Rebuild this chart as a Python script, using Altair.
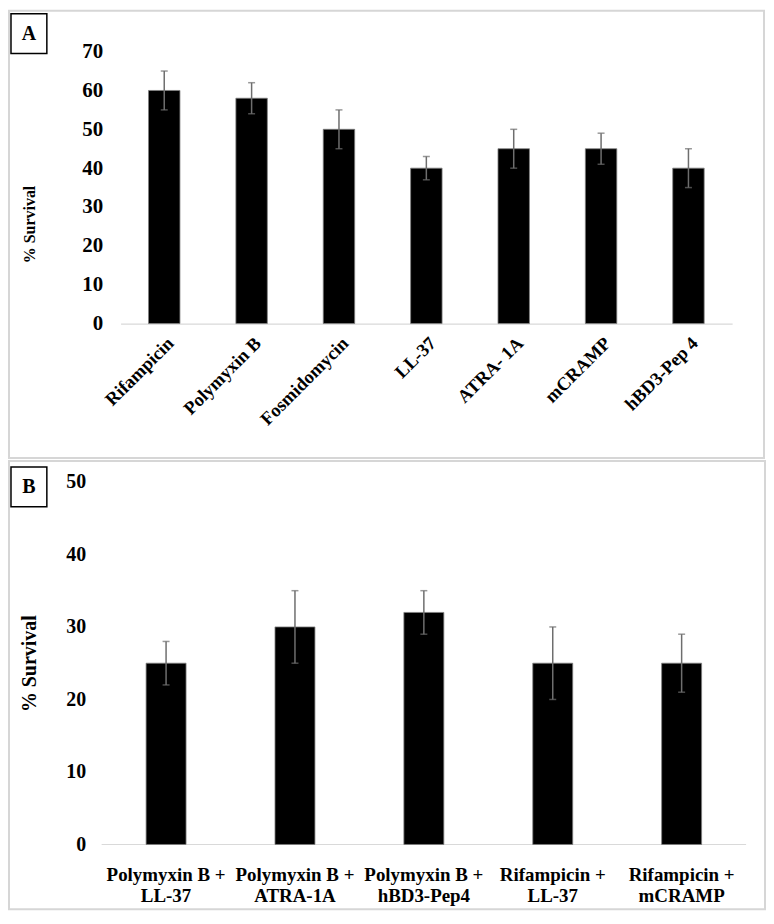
import altair as alt
import pandas as pd

# ---- data ----
drugs_a = ["Rifampicin", "Polymyxin B", "Fosmidomycin", "LL-37", "ATRA- 1A", "mCRAMP", "hBD3-Pep 4"]
surv_a = [60, 58, 50, 40, 45, 45, 40]
err_a = [5, 4, 5, 3, 5, 4, 5]

combos_b = ["Polymyxin B +\nLL-37", "Polymyxin B +\nATRA-1A", "Polymyxin B +\nhBD3-Pep4",
            "Rifampicin +\nLL-37", "Rifampicin +\nmCRAMP"]
surv_b = [25, 30, 32, 25, 25]
err_b = [3, 5, 3, 5, 4]

y_ticks_a = [0, 10, 20, 30, 40, 50, 60, 70]
y_ticks_b = [0, 10, 20, 30, 40, 50]

FONT = "Liberation Serif"
TITLE = "% Survival"


def make_df(cats, vals, errs):
    return pd.DataFrame({
        "cat": cats,
        "val": vals,
        "lo": [v - e for v, e in zip(vals, errs)],
        "hi": [v + e for v, e in zip(vals, errs)],
    })


def panel(df, cats, ticks, width, height, xscale, xaxis, yaxis_opts, box, lbox, letter,
          letter_pos, baseline=None):
    base = alt.Chart(df).encode(
        x=alt.X("cat:N", sort=cats, title=None, scale=xscale, axis=xaxis)
    )
    yscale = alt.Scale(domain=[0, ticks[-1]], nice=False, zero=True)
    yaxis = alt.Axis(values=ticks, grid=False, domain=False, ticks=False, tickSize=0,
                     labelFont=FONT, labelFontWeight="bold", labelColor="black",
                     labelOverlap=False, labelSeparation=0,
                     titleFont=FONT, titleFontWeight="bold",
                     titleColor="black", titleAngle=270, titleAlign="center",
                     titleBaseline="middle", **yaxis_opts)
    bars = base.mark_bar(color="black", stroke="#808080", strokeWidth=0.8).encode(
        y=alt.Y("val:Q", scale=yscale, title=TITLE, axis=yaxis))
    rule = base.mark_rule(color="#6e6e6e", strokeWidth=1.5).encode(
        y=alt.Y("lo:Q", scale=yscale, title=TITLE, axis=yaxis), y2="hi:Q")
    cap_hi = base.mark_tick(color="#6e6e6e", thickness=1.5, size=7).encode(
        y=alt.Y("hi:Q", scale=yscale, title=TITLE, axis=yaxis))
    cap_lo = base.mark_tick(color="#6e6e6e", thickness=1.5, size=7).encode(
        y=alt.Y("lo:Q", scale=yscale, title=TITLE, axis=yaxis))

    one = alt.Chart(pd.DataFrame({"k": [0]}))
    outer = one.mark_rect(filled=False, stroke="#d6d6d6", strokeWidth=2).encode(
        x=alt.value(box[0]), x2=alt.value(box[1]), y=alt.value(box[2]), y2=alt.value(box[3]))
    lab_box = one.mark_rect(fill="white", stroke="black", strokeWidth=1.5).encode(
        x=alt.value(lbox[0]), x2=alt.value(lbox[1]), y=alt.value(lbox[2]), y2=alt.value(lbox[3]))
    lab_txt = one.mark_text(text=letter, font=FONT, fontSize=20, fontWeight="bold",
                            align="center", baseline="middle", color="black").encode(
        x=alt.value(letter_pos[0]), y=alt.value(letter_pos[1]))

    layers = [outer]
    if baseline is not None:
        layers.append(one.mark_rule(color="#d9d9d9", strokeWidth=1.2).encode(
            x=alt.value(baseline[0]), x2=alt.value(baseline[1]), y=alt.value(height)))
    layers += [bars, rule, cap_hi, cap_lo, lab_box, lab_txt]
    return alt.layer(*layers).properties(width=width, height=height)


df_a = make_df(drugs_a, surv_a, err_a)
df_b = make_df(combos_b, surv_b, err_b)

xaxis_a = alt.Axis(labelAngle=-45, labelAlign="right", labelBaseline="top",
                   labelFont=FONT, labelFontSize=18.5, labelFontWeight="bold", labelColor="black",
                   labelPadding=10, ticks=False, tickSize=0, domainColor="#d9d9d9",
                   domainWidth=1.2, labelOverlap=False)
xaxis_b = alt.Axis(labelAngle=0, labelAlign="center", labelBaseline="top",
                   labelFont=FONT, labelFontSize=19, labelFontWeight="bold", labelColor="black",
                   labelPadding=21, labelLineHeight=21, ticks=False, tickSize=0,
                   domain=False, labelOverlap=False,
                   labelExpr="split(datum.label, '\\n')")

# both panels share the same plot origin (page x = 121); panel B's band range is shifted left
chart_a = panel(df_a, drugs_a, y_ticks_a, 614, 273,
                alt.Scale(paddingInner=0.64, paddingOuter=0.32), xaxis_a,
                dict(labelFontSize=21, labelPadding=18, titleFontSize=16, titleX=-91, titleY=173),
                box=(-112, 646, -41, 408), lbox=(-110, -74, -38, 2), letter="A",
                letter_pos=(-92, -18))
chart_b = panel(df_b, combos_b, y_ticks_b, 628, 364,
                alt.Scale(paddingInner=0.69, paddingOuter=0.345, range=[-19, 628]), xaxis_b,
                dict(labelFontSize=20, labelPadding=35, titleFontSize=20, titleX=-91, titleY=182),
                box=(-112, 647, -21, 429), lbox=(-110, -74, -15, 25), letter="B",
                letter_pos=(-92, 5), baseline=(-19, 628))

chart = alt.vconcat(chart_a, chart_b, spacing=1).properties(
    padding=0, background="white"
).configure_view(strokeWidth=0)

chart.save("out.html", embed_options={"renderer": "svg", "actions": False})
